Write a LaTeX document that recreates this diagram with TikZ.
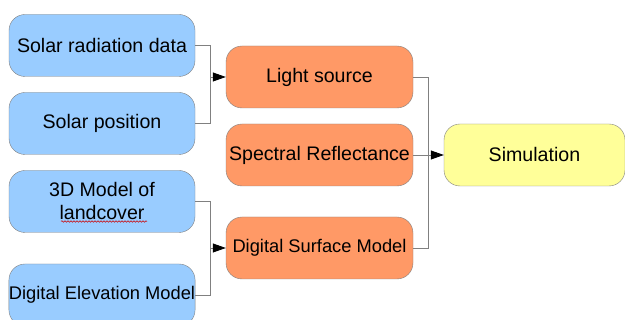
\documentclass[tikz,border=0pt]{standalone}
\usepackage{fontspec}
\setmainfont{Liberation Sans}
\usetikzlibrary{arrows.meta, calc, decorations.pathmorphing}
\definecolor{databox}{HTML}{99CCFF}
\definecolor{procbox}{HTML}{FF9966}
\definecolor{simbox}{HTML}{FFFF99}
\definecolor{edge}{HTML}{808080}
\tikzstyle{dataset} = [
    rectangle, 
    rounded corners=16pt, 
    minimum width=186pt, 
    minimum height=62pt,
    inner sep=0pt,
    align=center, 
    draw=edge, 
    fill=databox
]
\tikzstyle{process} = [
    dataset, 
    minimum width=187pt, 
    fill=procbox
]
\tikzstyle{result} = [
    dataset, 
    minimum width=181pt, 
    fill=simbox
]
\tikzstyle{line} = [
    draw=edge, 
    line width=0.8pt
]
\tikzstyle{arrow} = [
    line, 
    -{Triangle[length=13pt,width=9pt,black]}
]
\tikzstyle{spell} = [
    red!80!black, 
    line width=0.5pt,
    decorate,
    decoration={snake, amplitude=0.8pt, segment length=3pt}
]

\begin{document}
\begin{tikzpicture}[x=1pt, y=1pt, node distance=78pt,
    font=\fontsize{19.6}{23}\selectfont]
        \useasboundingbox (0,0) rectangle (625,320);
        \node (rad) [dataset] at (102,274.5) {Solar radiation data};
        \node (pos) [dataset, below of=rad] {Solar position};
        \node (land) [dataset, below of=pos] {3D Model of\\landcover};
        \node (dem) [dataset, below of=land, yshift=-15.5pt,
            font=\fontsize{18.3}{22}\selectfont] {Digital Elevation Model};
        \node (light) [process] at (319.5,243) {Light source};
        \node (spec) [process, below of=light] {Spectral Reflectance};
        \node (dsm) [process, below of=spec, yshift=-15pt,
            font=\fontsize{18.3}{22}\selectfont] {Digital Surface Model};
        \node (sim) [result, right of=spec, xshift=137pt] {Simulation};

        % spell check mark under "landcover"
        \draw[spell] ([xshift=-41pt,yshift=-20pt]land.center) -- ++(86pt,0);

        \coordinate (j1) at ($(rad.east)!0.5!(light.west)$);
        \coordinate (j2) at ($(land.east)!0.5!(dsm.west)$);
        \coordinate (j3) at ($(light.east)!0.5!(sim.west)$);

        \draw[line] (rad.east) -| (j1) |- (pos.east);
        \draw[arrow] (j1 |- light.west) -- (light.west);
        \draw[line] (land.east) -| (j2) |- (dem.east);
        \draw[arrow] (j2 |- dsm.west) -- (dsm.west);
        \draw[line] (light.east) -| (j3) |- (dsm.east);
        \draw[arrow] (spec.east) -- (sim.west);
    \end{tikzpicture}
\end{document}
